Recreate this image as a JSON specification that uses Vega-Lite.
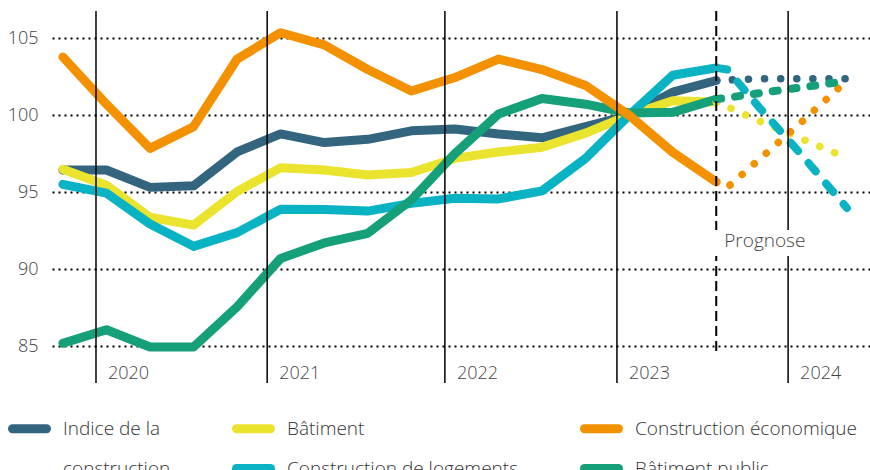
{
  "$schema": "https://vega.github.io/schema/vega-lite/v6.json",
  "width": 818,
  "height": 372,
  "autosize": {"type": "none"},
  "padding": {"left": 52, "top": 11, "right": 0, "bottom": 87},
  "background": "white",
  "config": {
    "view": {"stroke": null},
    "font": "Open Sans",
    "axisY": {"domain": false, "ticks": false, "labelPadding": 14, "labelFontSize": 18, "labelFont": "Open Sans", "zindex": 1,
              "labelFontWeight": 300, "labelColor": "#444444", "grid": true, "gridColor": "#000000", "gridWidth": 2, "gridDash": [2, 4]},
    "legend": {"symbolType": "stroke", "symbolStrokeWidth": 9, "symbolSize": 1156, "labelFontSize": 19, "labelFont": "Open Sans",
               "labelFontWeight": 300, "labelColor": "#333333", "columnPadding": 47, "rowPadding": 0, "labelOffset": 12,
               "labelLimit": 400, "padding": 0}
  },
  "datasets": {
    "years": [
      {"x": 0.76, "year": "2020"},
      {"x": 4.69, "year": "2021"},
      {"x": 8.77, "year": "2022"},
      {"x": 12.72, "year": "2023"},
      {"x": 16.65, "year": "2024"}
    ],
    "prognose": [{"x": 15, "label": "Prognose"}],
    "actual": [
      {"s": "Indice de la construction", "t": 0, "v": 96.45},
      {"s": "Indice de la construction", "t": 1, "v": 96.45},
      {"s": "Indice de la construction", "t": 2, "v": 95.32},
      {"s": "Indice de la construction", "t": 3, "v": 95.42},
      {"s": "Indice de la construction", "t": 4, "v": 97.62},
      {"s": "Indice de la construction", "t": 5, "v": 98.79},
      {"s": "Indice de la construction", "t": 6, "v": 98.23},
      {"s": "Indice de la construction", "t": 7, "v": 98.44},
      {"s": "Indice de la construction", "t": 8, "v": 98.99},
      {"s": "Indice de la construction", "t": 9, "v": 99.11},
      {"s": "Indice de la construction", "t": 10, "v": 98.79},
      {"s": "Indice de la construction", "t": 11, "v": 98.54},
      {"s": "Indice de la construction", "t": 12, "v": 99.26},
      {"s": "Indice de la construction", "t": 13, "v": 100.0},
      {"s": "Indice de la construction", "t": 14, "v": 101.5},
      {"s": "Indice de la construction", "t": 15, "v": 102.26},
      {"s": "Bâtiment", "t": 0, "v": 96.5},
      {"s": "Bâtiment", "t": 1, "v": 95.46},
      {"s": "Bâtiment", "t": 2, "v": 93.38},
      {"s": "Bâtiment", "t": 3, "v": 92.87},
      {"s": "Bâtiment", "t": 4, "v": 95.05},
      {"s": "Bâtiment", "t": 5, "v": 96.6},
      {"s": "Bâtiment", "t": 6, "v": 96.45},
      {"s": "Bâtiment", "t": 7, "v": 96.12},
      {"s": "Bâtiment", "t": 8, "v": 96.28},
      {"s": "Bâtiment", "t": 9, "v": 97.2},
      {"s": "Bâtiment", "t": 10, "v": 97.62},
      {"s": "Bâtiment", "t": 11, "v": 97.92},
      {"s": "Bâtiment", "t": 12, "v": 98.84},
      {"s": "Bâtiment", "t": 13, "v": 100.0},
      {"s": "Bâtiment", "t": 14, "v": 100.94},
      {"s": "Bâtiment", "t": 15, "v": 100.87},
      {"s": "Construction de logements", "t": 0, "v": 95.52},
      {"s": "Construction de logements", "t": 1, "v": 94.95},
      {"s": "Construction de logements", "t": 2, "v": 92.94},
      {"s": "Construction de logements", "t": 3, "v": 91.49},
      {"s": "Construction de logements", "t": 4, "v": 92.38},
      {"s": "Construction de logements", "t": 5, "v": 93.9},
      {"s": "Construction de logements", "t": 6, "v": 93.88},
      {"s": "Construction de logements", "t": 7, "v": 93.78},
      {"s": "Construction de logements", "t": 8, "v": 94.28},
      {"s": "Construction de logements", "t": 9, "v": 94.61},
      {"s": "Construction de logements", "t": 10, "v": 94.57},
      {"s": "Construction de logements", "t": 11, "v": 95.09},
      {"s": "Construction de logements", "t": 12, "v": 97.2},
      {"s": "Construction de logements", "t": 13, "v": 100.0},
      {"s": "Construction de logements", "t": 14, "v": 102.6},
      {"s": "Construction de logements", "t": 15, "v": 103.08},
      {"s": "Bâtiment public", "t": 0, "v": 85.2},
      {"s": "Bâtiment public", "t": 1, "v": 86.08},
      {"s": "Bâtiment public", "t": 2, "v": 84.96},
      {"s": "Bâtiment public", "t": 3, "v": 84.96},
      {"s": "Bâtiment public", "t": 4, "v": 87.57},
      {"s": "Bâtiment public", "t": 5, "v": 90.71},
      {"s": "Bâtiment public", "t": 6, "v": 91.71},
      {"s": "Bâtiment public", "t": 7, "v": 92.34},
      {"s": "Bâtiment public", "t": 8, "v": 94.5},
      {"s": "Bâtiment public", "t": 9, "v": 97.51},
      {"s": "Bâtiment public", "t": 10, "v": 100.08},
      {"s": "Bâtiment public", "t": 11, "v": 101.09},
      {"s": "Bâtiment public", "t": 12, "v": 100.72},
      {"s": "Bâtiment public", "t": 13, "v": 100.15},
      {"s": "Bâtiment public", "t": 14, "v": 100.19},
      {"s": "Bâtiment public", "t": 15, "v": 101.04},
      {"s": "Construction économique", "t": 0, "v": 103.78},
      {"s": "Construction économique", "t": 1, "v": 100.72},
      {"s": "Construction économique", "t": 2, "v": 97.85},
      {"s": "Construction économique", "t": 3, "v": 99.26},
      {"s": "Construction économique", "t": 4, "v": 103.65},
      {"s": "Construction économique", "t": 5, "v": 105.36},
      {"s": "Construction économique", "t": 6, "v": 104.57},
      {"s": "Construction économique", "t": 7, "v": 102.97},
      {"s": "Construction économique", "t": 8, "v": 101.58},
      {"s": "Construction économique", "t": 9, "v": 102.45},
      {"s": "Construction économique", "t": 10, "v": 103.65},
      {"s": "Construction économique", "t": 11, "v": 102.97},
      {"s": "Construction économique", "t": 12, "v": 101.94},
      {"s": "Construction économique", "t": 13, "v": 100.0},
      {"s": "Construction économique", "t": 14, "v": 97.6},
      {"s": "Construction économique", "t": 15, "v": 95.67}
    ],
    "forecast": [
      {"s": "Indice de la construction", "t": 15, "v": 102.26},
      {"s": "Indice de la construction", "t": 16, "v": 102.37},
      {"s": "Indice de la construction", "t": 17, "v": 102.37},
      {"s": "Indice de la construction", "t": 18, "v": 102.37},
      {"s": "Bâtiment", "t": 15, "v": 100.87},
      {"s": "Bâtiment", "t": 16, "v": 99.61},
      {"s": "Bâtiment", "t": 17, "v": 98.42},
      {"s": "Bâtiment", "t": 18, "v": 97.23},
      {"s": "Construction de logements", "t": 15, "v": 103.08},
      {"s": "Construction de logements", "t": 15.25, "v": 102.97},
      {"s": "Construction de logements", "t": 16, "v": 100.47},
      {"s": "Construction de logements", "t": 17, "v": 97.3},
      {"s": "Construction de logements", "t": 18, "v": 93.98},
      {"s": "Bâtiment public", "t": 15, "v": 101.04},
      {"s": "Bâtiment public", "t": 16, "v": 101.44},
      {"s": "Bâtiment public", "t": 17, "v": 101.83},
      {"s": "Bâtiment public", "t": 18, "v": 102.22},
      {"s": "Construction économique", "t": 15, "v": 95.67},
      {"s": "Construction économique", "t": 15.25, "v": 95.3},
      {"s": "Construction économique", "t": 16, "v": 97.17},
      {"s": "Construction économique", "t": 17, "v": 99.67},
      {"s": "Construction économique", "t": 18, "v": 102.26}
    ]
  },
  "layer": [
    {
      "data": {"name": "actual"},
      "mark": {"type": "line", "strokeWidth": 9, "strokeCap": "round", "strokeJoin": "round"},
      "encoding": {
        "x": {"field": "t", "type": "quantitative", "scale": {"domain": [-0.25, 18.53], "nice": false, "zero": false}, "axis": null},
        "y": {"field": "v", "type": "quantitative", "scale": {"domain": [82.62, 106.77], "nice": false, "zero": false},
          "axis": {"values": [85, 90, 95, 100, 105], "title": null}},
        "color": {"field": "s", "type": "nominal",
          "scale": {"domain": ["Indice de la construction", "Bâtiment", "Construction économique", "construction", "Construction de logements", "Bâtiment public"],
                    "range": ["#34657f", "#ebe42e", "#f39100", "#ffffff", "#0ab3c3", "#15a07a"]},
          "legend": {"orient": "none", "legendX": -44, "legendY": 396, "direction": "horizontal", "columns": 3, "title": null,
                     "labelExpr": "datum.label == 'Indice de la construction' ? 'Indice de la' : datum.label",
                     "encode": {"symbols": {"update": {"strokeCap": {"value": "round"}, "opacity": {"signal": "datum.value == 'construction' ? 0 : 1"}}}}}}
      }
    },
    {
      "data": {"name": "forecast"},
      "transform": [{"filter": {"field": "s", "oneOf": ["Indice de la construction", "Bâtiment", "Construction économique"]}}],
      "mark": {"type": "line", "strokeWidth": 7.5, "strokeCap": "round", "strokeDash": [0.1, 16]},
      "encoding": {
        "x": {"field": "t", "type": "quantitative", "axis": null},
        "y": {"field": "v", "type": "quantitative", "axis": {"values": [85, 90, 95, 100, 105], "title": null}},
        "color": {"field": "s", "type": "nominal",
          "legend": {"orient": "none", "legendX": -44, "legendY": 396, "direction": "horizontal", "columns": 3, "title": null,
                     "labelExpr": "datum.label == 'Indice de la construction' ? 'Indice de la' : datum.label",
                     "encode": {"symbols": {"update": {"strokeCap": {"value": "round"}, "opacity": {"signal": "datum.value == 'construction' ? 0 : 1"}}}}}}
      }
    },
    {
      "data": {"name": "forecast"},
      "transform": [{"filter": {"field": "s", "equal": "Construction de logements"}}],
      "mark": {"type": "line", "strokeWidth": 8, "strokeCap": "round", "strokeDash": [11, 16]},
      "encoding": {
        "x": {"field": "t", "type": "quantitative", "axis": null},
        "y": {"field": "v", "type": "quantitative", "axis": {"values": [85, 90, 95, 100, 105], "title": null}},
        "color": {"field": "s", "type": "nominal",
          "legend": {"orient": "none", "legendX": -44, "legendY": 396, "direction": "horizontal", "columns": 3, "title": null,
                     "labelExpr": "datum.label == 'Indice de la construction' ? 'Indice de la' : datum.label",
                     "encode": {"symbols": {"update": {"strokeCap": {"value": "round"}, "opacity": {"signal": "datum.value == 'construction' ? 0 : 1"}}}}}}
      }
    },
    {
      "data": {"name": "forecast"},
      "transform": [{"filter": {"field": "s", "equal": "Bâtiment public"}}],
      "mark": {"type": "line", "strokeWidth": 8, "strokeCap": "round", "strokeDash": [5, 14]},
      "encoding": {
        "x": {"field": "t", "type": "quantitative", "axis": null},
        "y": {"field": "v", "type": "quantitative", "axis": {"values": [85, 90, 95, 100, 105], "title": null}},
        "color": {"field": "s", "type": "nominal",
          "legend": {"orient": "none", "legendX": -44, "legendY": 396, "direction": "horizontal", "columns": 3, "title": null,
                     "labelExpr": "datum.label == 'Indice de la construction' ? 'Indice de la' : datum.label",
                     "encode": {"symbols": {"update": {"strokeCap": {"value": "round"}, "opacity": {"signal": "datum.value == 'construction' ? 0 : 1"}}}}}}
      }
    },
    {
      "data": {"name": "years"},
      "mark": {"type": "rule", "color": "#000000", "strokeWidth": 1.5},
      "encoding": {
        "x": {"field": "x", "type": "quantitative", "axis": null}
      }
    },
    {
      "data": {"name": "years"},
      "mark": {"type": "text", "align": "left", "baseline": "middle", "dx": 12, "fontSize": 18, "fontWeight": 300, "color": "#444444"},
      "encoding": {
        "x": {"field": "x", "type": "quantitative", "axis": null},
        "y": {"datum": 83.23, "type": "quantitative", "axis": {"values": [85, 90, 95, 100, 105], "title": null}},
        "text": {"field": "year"}
      }
    },
    {
      "data": {"name": "prognose"},
      "mark": {"type": "rule", "color": "#000000", "strokeWidth": 2, "strokeDash": [10, 5]},
      "encoding": {
        "x": {"field": "x", "type": "quantitative", "axis": null},
        "y": {"datum": 106.77, "type": "quantitative", "axis": {"values": [85, 90, 95, 100, 105], "title": null}},
        "y2": {"datum": 84.65}
      }
    },
    {
      "data": {"name": "prognose"},
      "mark": {"type": "rect", "fill": "white"},
      "encoding": {
        "x": {"datum": 14.9, "type": "quantitative", "axis": null},
        "x2": {"datum": 17.1},
        "y": {"datum": 92.55, "type": "quantitative", "axis": {"values": [85, 90, 95, 100, 105], "title": null}},
        "y2": {"datum": 90.87}
      }
    },
    {
      "data": {"name": "prognose"},
      "mark": {"type": "text", "align": "left", "baseline": "middle", "dx": 8, "fontSize": 19, "fontWeight": 300, "color": "#444444"},
      "encoding": {
        "x": {"field": "x", "type": "quantitative", "axis": null},
        "y": {"datum": 91.86, "type": "quantitative", "axis": {"values": [85, 90, 95, 100, 105], "title": null}},
        "text": {"field": "label"}
      }
    }
  ]
}
